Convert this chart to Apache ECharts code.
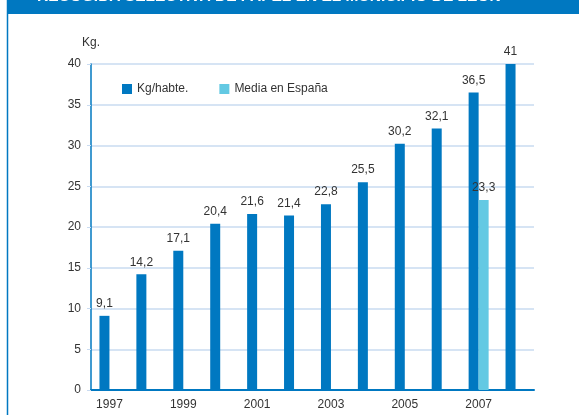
<!DOCTYPE html>
<html>
<head>
<meta charset="utf-8">
<script src="https://cdn.jsdelivr.net/npm/echarts@6/dist/echarts.min.js"></script>
<style>
  html, body { margin: 0; padding: 0; background: #fff; }
  #chart { width: 579px; height: 415px; }
</style>
</head>
<body>
<div id="chart"></div>
<script>
const years = ['1997', '1998', '1999', '2000', '2001', '2002', '2003', '2004', '2005', '2006', '2007', '2008'];
const kgHabitante = [9.1, 14.2, 17.1, 20.4, 21.6, 21.4, 22.8, 25.5, 30.2, 32.1, 36.5, 41];
const mediaEspana = [null, null, null, null, null, null, null, null, null, null, 23.3, null];
const seriesNames = ['Kg/habte.', 'Media en España'];

const blue = '#0078c1';
const lightBlue = '#63c9e3';
const font = '"Liberation Sans", Arial, sans-serif';

const myChart = echarts.init(document.getElementById('chart'));

const fmt = p => String(p.value).replace('.', ',');

const option = {
  animation: false,
  textStyle: { fontFamily: font },
  graphic: [
    { type: 'rect', shape: { x: 7, y: 0, width: 572, height: 14 }, style: { fill: blue } },
    { type: 'line', shape: { x1: 7.5, y1: 0, x2: 7.5, y2: 415 }, style: { stroke: blue, lineWidth: 1.5 } },
    {
      type: 'text', left: 37, top: -11,
      style: {
        text: 'RECOGIDA SELECTIVA DE PAPEL EN EL MUNICIPIO DE LEÓN',
        fill: '#fff', font: 'bold 15.5px ' + font
      }
    }
  ],
  legend: {
    left: 117, top: 78,
    itemWidth: 10, itemHeight: 10, itemGap: 31,
    icon: 'rect',
    textStyle: { fontFamily: font, fontSize: 12, color: '#333' },
    data: seriesNames
  },
  grid: { left: 91, right: 45, top: 64, bottom: 25 },
  xAxis: {
    type: 'category',
    data: years,
    axisLine: { lineStyle: { color: blue, width: 2 } },
    axisTick: { interval: 0, length: 6, lineStyle: { color: blue } },
    axisLabel: { interval: 1, color: '#333', fontSize: 12, margin: 9, fontFamily: font }
  },
  yAxis: {
    type: 'value',
    min: 0, max: 40, interval: 5,
    name: 'Kg.',
    nameGap: 15,
    nameTextStyle: { color: '#333', fontSize: 12, fontFamily: font, align: 'center' },
    axisLine: { show: true, lineStyle: { color: blue, width: 1.5 } },
    axisTick: { show: true, length: 4, lineStyle: { color: '#c9dbf1' } },
    axisLabel: { color: '#333', fontSize: 12, margin: 10, fontFamily: font },
    splitLine: { lineStyle: { color: '#c9dbf1', width: 1.5 } }
  },
  series: [
    {
      name: seriesNames[0], type: 'bar', data: kgHabitante,
      barWidth: 10, barGap: 0,
      itemStyle: { color: blue },
      label: { show: true, position: 'top', distance: 6, color: '#333', fontSize: 12, fontFamily: font, formatter: fmt }
    },
    {
      name: seriesNames[1], type: 'bar', data: mediaEspana,
      barWidth: 10,
      itemStyle: { color: lightBlue },
      label: { show: true, position: 'top', distance: 6, color: '#333', fontSize: 12, fontFamily: font, formatter: fmt }
    }
  ]
};

myChart.setOption(option);
</script>
</body>
</html>
